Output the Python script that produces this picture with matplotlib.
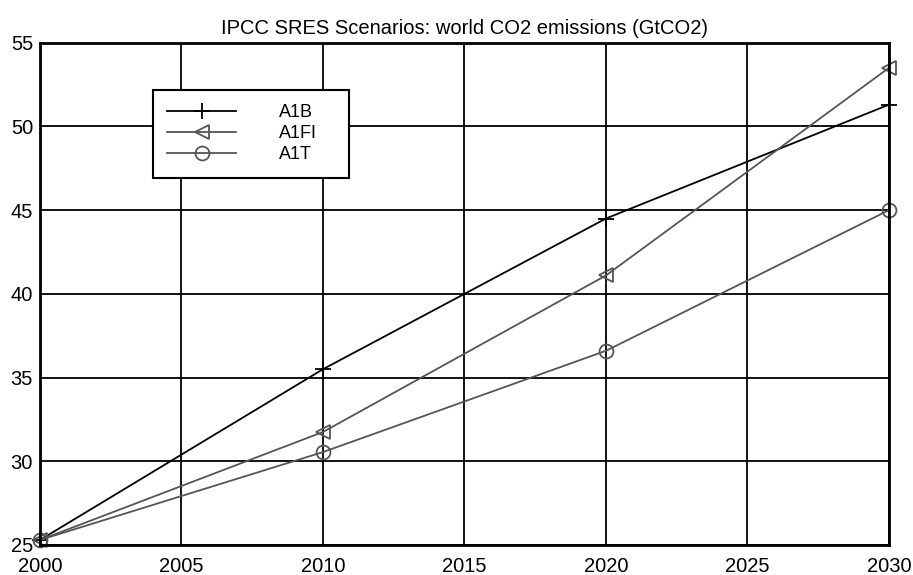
import matplotlib
matplotlib.use("Agg")
import matplotlib.pyplot as plt

years = [2000, 2010, 2020, 2030]
a1b = [25.3, 35.5, 44.5, 51.3]
a1fi = [25.3, 31.75, 41.1, 53.5]
a1t = [25.3, 30.55, 36.6, 45.0]
xticks = [2000, 2005, 2010, 2015, 2020, 2025, 2030]
yticks = [25, 30, 35, 40, 45, 50, 55]

plt.rcParams['font.family'] = ['Liberation Sans', 'DejaVu Sans']

fig = plt.figure(figsize=(9.13, 5.75), dpi=100)
ax = fig.add_axes([40/913, 1-545/575, 849/913, (545-42.7)/575])

ax.plot(years, a1b, color='black', lw=1.3, marker='+', ms=11, mew=1.3, label='A1B', zorder=3, clip_on=False)
ax.plot(years, a1fi, color='#555555', lw=1.3, marker='<', ms=10, mew=1.3, mfc='none', label='A1FI', zorder=3, clip_on=False)
ax.plot(years, a1t, color='#555555', lw=1.3, marker='o', ms=10, mew=1.3, mfc='none', label='A1T', zorder=3, clip_on=False)

ax.set_xlim(2000, 2030)
ax.set_ylim(25, 55)
ax.set_xticks(xticks)
ax.set_yticks(yticks)
ax.grid(True, color='black', lw=1.3, ls='-')
ax.tick_params(direction='in', labelsize=14.5, length=0)
ax.tick_params(axis='x', pad=9)
ax.tick_params(axis='y', pad=5)
for s in ax.spines.values():
    s.set_linewidth(2)
    s.set_zorder(4)
ax.set_title('IPCC SRES Scenarios: world CO2 emissions (GtCO2)', fontsize=14.5, pad=6)

leg = ax.legend(loc='upper left', bbox_to_anchor=(0.133, 0.739, 0.231, 0.167), mode='expand',
                fontsize=13, handlelength=3.8, handletextpad=2.4, borderpad=0.8,
                labelspacing=0.22, fancybox=False, framealpha=1, edgecolor='black',
                borderaxespad=0)
leg.get_frame().set_linewidth(1.5)

fig.savefig('out.png', dpi=100)
